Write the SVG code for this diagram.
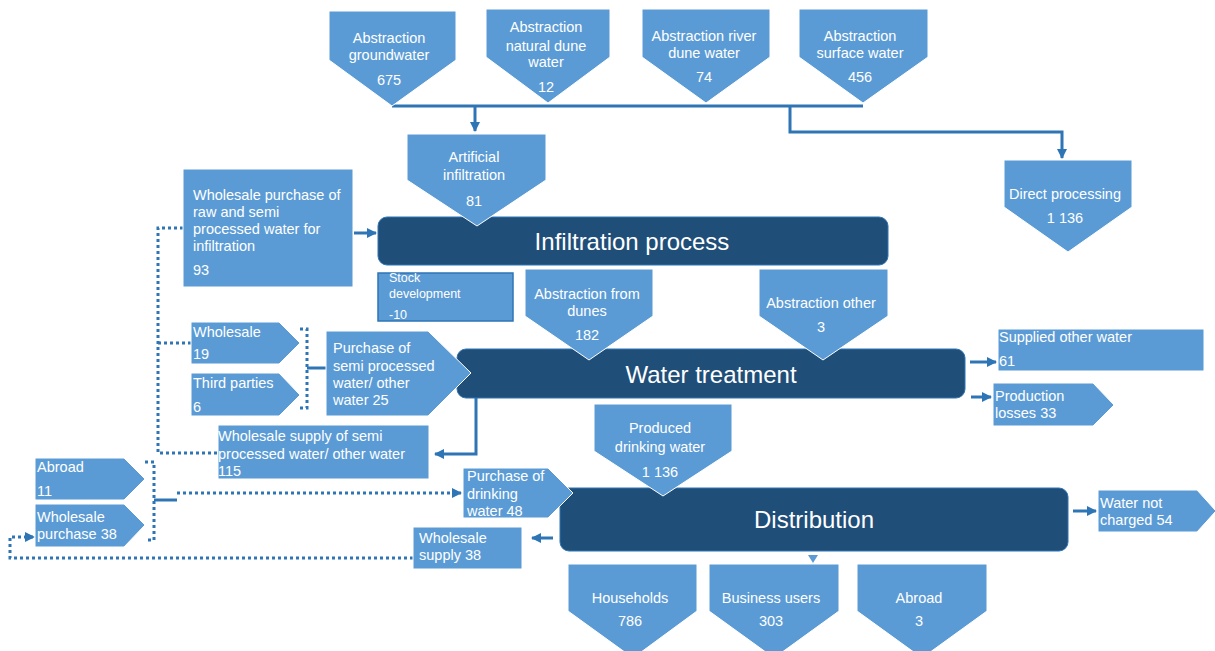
<svg xmlns="http://www.w3.org/2000/svg" width="1215" height="651" viewBox="0 0 1215 651">
<style>
.lb{fill:#5B9BD5;stroke:#ffffff;stroke-width:1}
.sd{fill:#5B9BD5;stroke:#2E75B6;stroke-width:1.5}
.dk{fill:#1F4E79;stroke:#2E75B6;stroke-width:1}
text{font-family:"Liberation Sans",Arial,sans-serif;fill:#ffffff;font-size:14.5px}
.c{text-anchor:middle}
.sm{font-size:12.5px}
.big{font-size:24px}
.ln{fill:none;stroke:#2E75B6;stroke-width:3}
.dt{fill:none;stroke:#2E75B6;stroke-width:3;stroke-dasharray:3 3}
</style>
<defs>
<marker id="ah" markerUnits="userSpaceOnUse" markerWidth="10" markerHeight="10" refX="9" refY="5" orient="auto">
<path d="M0,0 L10,5 L0,10 z" fill="#2E75B6"/>
</marker>
</defs>

<g id="connectors">
<path class="ln" d="M392,106 H863"/>
<path class="ln" d="M475,106 V131" marker-end="url(#ah)"/>
<path class="ln" d="M790,106 V132 H1062 V158" marker-end="url(#ah)"/>
<path class="ln" d="M354,233 H376" marker-end="url(#ah)"/>
<path class="dt" d="M183,228 H158 V453 H218"/>
<path class="dt" d="M158,343 H191"/>
<path class="dt" d="M300,329 H307 V408 H300"/>
<path class="ln" d="M307,368 H328"/>
<path class="ln" d="M476,398 V454 H435" marker-end="url(#ah)"/>
<path class="dt" d="M145,462 H154 V540 H145"/>
<path class="ln" d="M154,500 H177"/>
<path class="dt" d="M177,493 H461" marker-end="url(#ah)"/>
<path class="dt" d="M413,558 H10 V537 H34" marker-end="url(#ah)"/>
<path class="ln" d="M970,362 H996" marker-end="url(#ah)"/>
<path class="ln" d="M971,397 H991" marker-end="url(#ah)"/>
<path class="ln" d="M553,538 H532" marker-end="url(#ah)"/>
<path class="ln" d="M1073,511 H1096" marker-end="url(#ah)"/>
<polygon points="808,555 818,555 813,563" fill="#5B9BD5"/>
</g>

<g id="infiltration-process">
<rect class="dk" x="378" y="217" width="510" height="48" rx="9"/>
<text class="c big" x="632" y="250">Infiltration process</text>
</g>
<g id="water-treatment">
<rect class="dk" x="457" y="349" width="508" height="49" rx="9"/>
<text class="c big" x="711" y="383">Water treatment</text>
</g>
<g id="distribution">
<rect class="dk" x="560" y="488" width="508" height="63" rx="9"/>
<text class="c big" x="814" y="528">Distribution</text>
</g>

<g id="abs-groundwater">
<polygon class="lb" points="329,11 456,11 456,60 392,106 329,60"/>
<text class="c" x="389" y="43">Abstraction</text>
<text class="c" x="389" y="60">groundwater</text>
<text class="c" x="389" y="85">675</text>
</g>
<g id="abs-natural-dune">
<polygon class="lb" points="486,9 610,9 610,57 548,103 486,57"/>
<text class="c" x="546" y="32">Abstraction</text>
<text class="c" x="546" y="51">natural dune</text>
<text class="c" x="546" y="67">water</text>
<text class="c" x="546" y="92">12</text>
</g>
<g id="abs-river-dune">
<polygon class="lb" points="642,9 770,9 770,57 706,103 642,57"/>
<text class="c" x="704" y="41">Abstraction river</text>
<text class="c" x="704" y="58">dune water</text>
<text class="c" x="704" y="82">74</text>
</g>
<g id="abs-surface">
<polygon class="lb" points="799,9 928,9 928,57 863,103 799,57"/>
<text class="c" x="860" y="41">Abstraction</text>
<text class="c" x="860" y="58">surface water</text>
<text class="c" x="860" y="82">456</text>
</g>

<g id="artificial-infiltration">
<polygon class="lb" points="407,134 546,134 546,180 477,226 407,180"/>
<text class="c" x="474" y="162">Artificial</text>
<text class="c" x="474" y="180">infiltration</text>
<text class="c" x="474" y="206">81</text>
</g>

<g id="direct-processing">
<polygon class="lb" points="1004,160 1132,160 1132,207 1068,252 1004,207"/>
<text class="c" x="1065" y="199">Direct processing</text>
<text class="c" x="1065" y="223">1 136</text>
</g>

<g id="wholesale-purchase-raw">
<rect class="lb" x="183" y="169" width="170" height="118"/>
<text x="193" y="200">Wholesale purchase of</text>
<text x="193" y="217">raw and semi</text>
<text x="193" y="234">processed water for</text>
<text x="193" y="251">infiltration</text>
<text x="193" y="275">93</text>
</g>

<g id="stock-development">
<rect class="sd" x="378" y="273" width="135" height="48"/>
<text class="sm" x="389" y="282">Stock</text>
<text class="sm" x="389" y="298">development</text>
<text class="sm" x="389" y="319">-10</text>
</g>

<g id="abs-from-dunes">
<polygon class="lb" points="525,269 653,269 653,316 589,360 525,316"/>
<text class="c" x="587" y="299">Abstraction from</text>
<text class="c" x="587" y="316">dunes</text>
<text class="c" x="587" y="340">182</text>
</g>
<g id="abs-other">
<polygon class="lb" points="759,269 888,269 888,316 823,360 759,316"/>
<text class="c" x="821" y="308">Abstraction other</text>
<text class="c" x="821" y="332">3</text>
</g>

<g id="supplied-other-water">
<rect class="lb" x="998" y="329" width="206" height="42"/>
<text x="999" y="342">Supplied other water</text>
<text x="999" y="366">61</text>
</g>
<g id="production-losses">
<polygon class="lb" points="993,383 1093,383 1114,405 1093,426 993,426"/>
<text x="995" y="401">Production</text>
<text x="995" y="418">losses 33</text>
</g>

<g id="wholesale-19">
<polygon class="lb" points="191,322 279,322 300,343 279,364 191,364"/>
<text x="193" y="337">Wholesale</text>
<text x="193" y="359">19</text>
</g>
<g id="third-parties">
<polygon class="lb" points="191,373 279,373 300,395 279,416 191,416"/>
<text x="193" y="388">Third parties</text>
<text x="193" y="412">6</text>
</g>
<g id="purchase-semi">
<polygon class="lb" points="326,331 428,331 471,373 428,416 326,416"/>
<text x="333" y="353">Purchase of</text>
<text x="333" y="371">semi processed</text>
<text x="333" y="388">water/ other</text>
<text x="333" y="405">water 25</text>
</g>

<g id="wholesale-supply-semi">
<rect class="lb" x="218" y="425" width="211" height="54"/>
<text x="218" y="441">Wholesale supply of semi</text>
<text x="218" y="459">processed water/ other water</text>
<text x="218" y="476">115</text>
</g>

<g id="abroad-11">
<polygon class="lb" points="35,458 124,458 145,479 124,500 35,500"/>
<text x="37" y="472">Abroad</text>
<text x="37" y="496">11</text>
</g>
<g id="wholesale-purchase-38">
<polygon class="lb" points="35,504 124,504 145,525 124,547 35,547"/>
<text x="37" y="522">Wholesale</text>
<text x="37" y="539">purchase 38</text>
</g>

<g id="purchase-drinking">
<polygon class="lb" points="463,468 548,468 573,493 548,518 463,518"/>
<text x="467" y="481">Purchase of</text>
<text x="467" y="499">drinking</text>
<text x="467" y="516">water 48</text>
</g>

<g id="produced-drinking">
<polygon class="lb" points="594,404 732,404 732,451 663,496 594,451"/>
<text class="c" x="660" y="433">Produced</text>
<text class="c" x="660" y="452">drinking water</text>
<text class="c" x="660" y="477">1 136</text>
</g>

<g id="wholesale-supply-38">
<rect class="lb" x="413" y="527" width="109" height="42"/>
<text x="419" y="543">Wholesale</text>
<text x="419" y="560">supply 38</text>
</g>

<g id="water-not-charged">
<polygon class="lb" points="1098,490 1197,490 1216,511 1197,532 1098,532"/>
<text x="1100" y="508">Water not</text>
<text x="1100" y="525">charged 54</text>
</g>

<g id="households">
<polygon class="lb" points="568,564 697,564 697,611 633,658 568,611"/>
<text class="c" x="630" y="603">Households</text>
<text class="c" x="630" y="626">786</text>
</g>
<g id="business-users">
<polygon class="lb" points="709,564 839,564 839,611 774,658 709,611"/>
<text class="c" x="771" y="603">Business users</text>
<text class="c" x="771" y="626">303</text>
</g>
<g id="abroad-3">
<polygon class="lb" points="857,564 987,564 987,611 922,658 857,611"/>
<text class="c" x="919" y="603">Abroad</text>
<text class="c" x="919" y="626">3</text>
</g>
</svg>
